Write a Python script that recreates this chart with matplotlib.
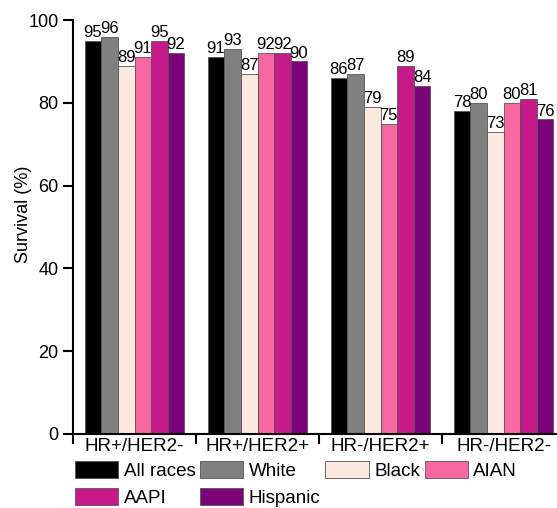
import numpy as np
import matplotlib.pyplot as plt
from matplotlib.ticker import FixedLocator, NullFormatter

plt.rcParams['font.family'] = ['Liberation Sans', 'DejaVu Sans']

# subtypes and race groups
subtypes = ['HR+/HER2-', 'HR+/HER2+', 'HR-/HER2+', 'HR-/HER2-']
races = ['All races', 'White', 'Black', 'AIAN', 'AAPI', 'Hispanic']
colors = ['#000000', '#808080', '#fde9e0', '#f768a1', '#c51b8a', '#7a0177']

# survival (%) per race, one value per subtype
all_races = [95, 91, 86, 78]
white = [96, 93, 87, 80]
black = [89, 87, 79, 73]
aian = [91, 92, 75, 80]
aapi = [95, 92, 89, 81]
hispanic = [92, 90, 84, 76]
values = [all_races, white, black, aian, aapi, hispanic]

fig = plt.figure(figsize=(5.57, 5.08), dpi=100)
ax = fig.add_axes([73/557, 74/508, 492/557, 414/508])

group_w = 0.81
bar_w = group_w / len(races)
x0 = np.arange(len(subtypes)) + 0.5 - group_w / 2

handles = []
for k, (race, vals) in enumerate(zip(races, values)):
    xs = x0 + bar_w * (k + 0.5)
    b = ax.bar(xs, vals, width=bar_w, color=colors[k], edgecolor='#555555',
               linewidth=0.6, label=race)
    handles.append(b)
    for x, v in zip(xs, vals):
        ax.text(x, v + 0.2, str(v), ha='center', va='bottom', fontsize=12)

ax.set_xlim(0, 4)
ax.set_ylim(0, 100)
ax.set_yticks([0, 20, 40, 60, 80, 100])
ax.set_xticks([0, 1, 2, 3, 4])
ax.xaxis.set_major_formatter(NullFormatter())
ax.xaxis.set_minor_locator(FixedLocator([0.5, 1.5, 2.5, 3.5]))
ax.set_xticklabels(subtypes, minor=True)
ax.tick_params(axis='x', which='minor', length=0, labelsize=13.5, pad=3)
ax.tick_params(axis='both', which='major', direction='out', length=7, width=1.5,
               labelsize=13)
ax.set_ylabel('Survival (%)', fontsize=13)
ax.yaxis.set_label_coords(-0.083, 0.53)

for s in ['top', 'right']:
    ax.spines[s].set_visible(False)
for s in ['left', 'bottom']:
    ax.spines[s].set_linewidth(1.5)

# row-wise legend order for 4 columns
order = [0, 4, 1, 5, 2, 3]
fig.legend([handles[i] for i in order], [races[i] for i in order],
           loc='upper left', bbox_to_anchor=(75/557, 1 - 461/508), ncol=4,
           frameon=False, fontsize=13.5, handlelength=2.3, handleheight=1.0,
           handletextpad=0.3, columnspacing=0.25, labelspacing=0.45,
           borderpad=0, borderaxespad=0)

fig.savefig('out.png', dpi=100)
